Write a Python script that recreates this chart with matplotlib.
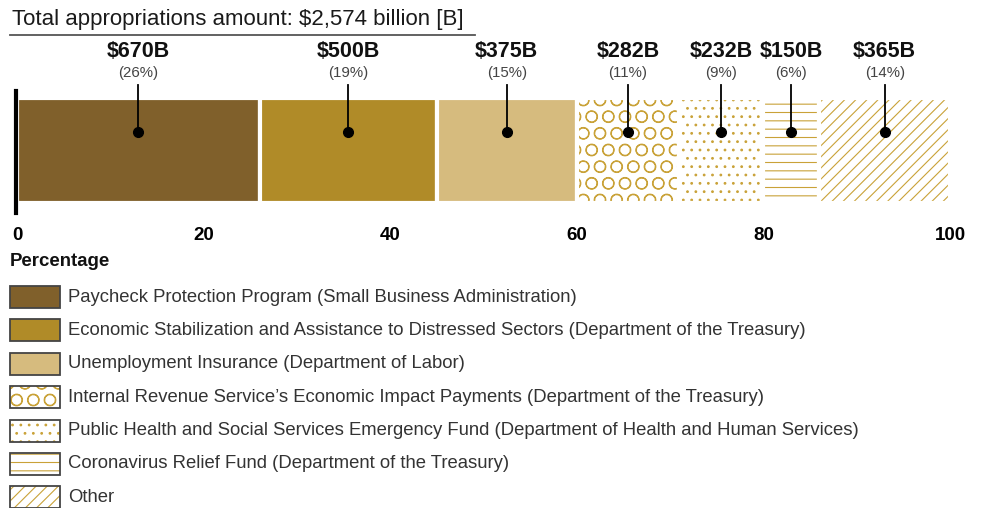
import matplotlib.pyplot as plt
from matplotlib.patches import Rectangle
from matplotlib.transforms import blended_transform_factory

categories = [
    "Paycheck Protection Program (Small Business Administration)",
    "Economic Stabilization and Assistance to Distressed Sectors (Department of the Treasury)",
    "Unemployment Insurance (Department of Labor)",
    "Internal Revenue Service\u2019s Economic Impact Payments (Department of the Treasury)",
    "Public Health and Social Services Emergency Fund (Department of Health and Human Services)",
    "Coronavirus Relief Fund (Department of the Treasury)",
    "Other",
]
amounts = [670, 500, 375, 282, 232, 150, 365]
percents = [26, 19, 15, 11, 9, 6, 14]
total_amount = 2574
xticks = [0, 20, 40, 60, 80, 100]

colors = ['#80602b', '#b08b28', '#d6bb7e', 'white', 'white', 'white', 'white']
hatches = [None, None, None, 'O', '..', '--', '///']
hatch_color = '#c9a238'

plt.rcParams['font.family'] = ['Liberation Sans', 'DejaVu Sans']
plt.rcParams['hatch.linewidth'] = 0.8

W, H = 983, 508
fig = plt.figure(figsize=(W / 100, H / 100), dpi=100)

# overlay in pixel coords for title, legend etc.
canvas = fig.add_axes([0, 0, 1, 1])
canvas.set_xlim(0, W)
canvas.set_ylim(H, 0)
canvas.axis('off')

ax = fig.add_axes([17 / W, 1 - 213 / H, 933 / W, 122 / H])
ax.set_xlim(0, 100)
ax.set_ylim(-0.595, 0.567)

left = 0
trans = blended_transform_factory(ax.transData, ax.transAxes)
for amt, pct, col, hat in zip(amounts, percents, colors, hatches):
    ax.barh(0, pct, left=left, height=1, color=col, hatch=hat,
            edgecolor=hatch_color if hat else col, linewidth=0)
    ax.barh(0, pct, left=left, height=1, fill=False, edgecolor='white', linewidth=3)
    mid = left + pct / 2
    ax.plot([mid, mid], [0.176, 0.62], color='black', lw=1.3, clip_on=False)
    ax.plot(mid, 0.176, 'o', color='black', markersize=7)
    ax.text(mid, 1.32, f"${amt}B", transform=trans, ha='center', va='center',
            fontsize=15.5, fontweight='bold', color='#111111')
    ax.text(mid, 1.148, f"({pct}%)", transform=trans, ha='center', va='center',
            fontsize=10.8, color='#444444')
    left += pct

for side in ['top', 'right', 'bottom']:
    ax.spines[side].set_visible(False)
ax.spines['left'].set_linewidth(3)
ax.spines['left'].set_position(('data', -0.1))
ax.set_yticks([])
ax.set_xticks(xticks)
ax.set_xticklabels([str(t) for t in xticks], fontsize=13.5, fontweight='bold')
ax.tick_params(axis='x', length=0, pad=10)

# title with underline
canvas.text(12, 19, f"Total appropriations amount: ${total_amount:,} billion [B]",
            ha='left', va='center', fontsize=16, color='#1a1a1a')
canvas.plot([10, 475], [35, 35], color='#555555', lw=1.3)

canvas.text(10, 262, "Percentage", ha='left', va='center', fontsize=13.4,
            fontweight='bold', color='#111111')

# legend
row_y = 297
for name, col, hat in zip(categories, colors, hatches):
    canvas.add_patch(Rectangle((10, row_y - 11), 50, 22, facecolor=col, hatch=hat,
                               edgecolor=hatch_color if hat else col, linewidth=0))
    canvas.add_patch(Rectangle((10, row_y - 11), 50, 22, fill=False,
                               edgecolor='#444444', linewidth=1.3))
    canvas.text(68, row_y, name, ha='left', va='center', fontsize=13.3, color='#333333')
    row_y += 33.4

fig.savefig('out.png', dpi=100)
